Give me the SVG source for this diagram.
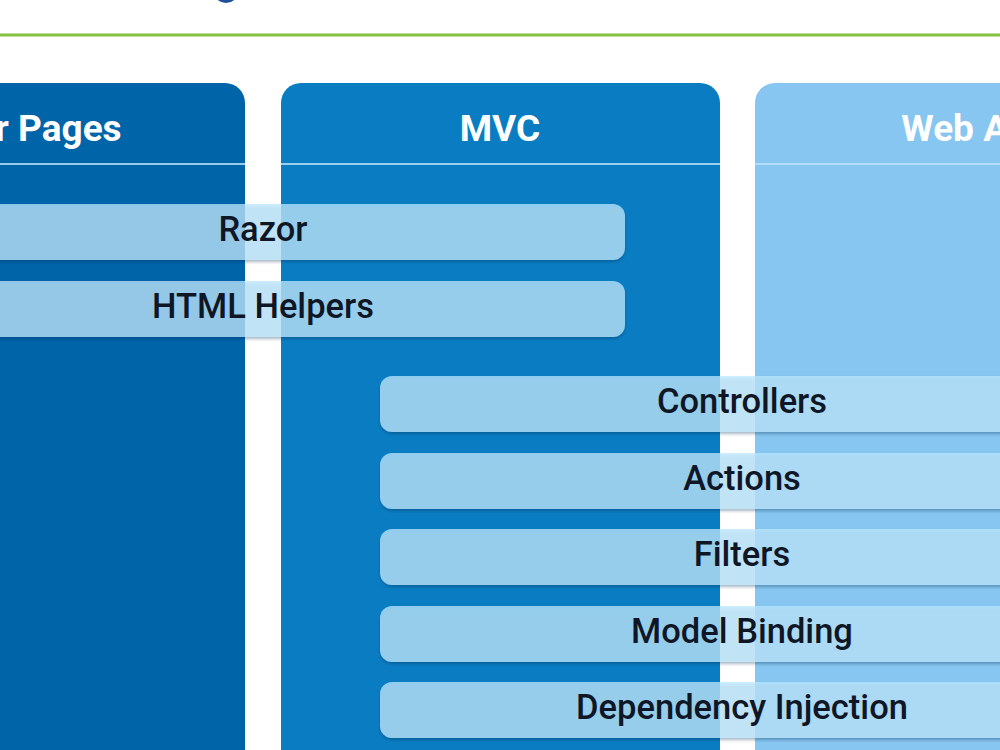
<svg xmlns="http://www.w3.org/2000/svg" width="1000" height="750" viewBox="0 0 1000 750">
<style>
.col{stroke:none}
.sep{stroke:#bfe3f7;stroke-width:2;stroke-opacity:0.8}
.hdr{font-family:Roboto,"Open Sans",sans-serif;font-weight:700;font-size:37px;fill:#ffffff;text-anchor:middle}
.bar{fill:#bde8ff;fill-opacity:0.74;filter:url(#sh)}
.lbl{font-family:Roboto,"Liberation Sans",sans-serif;font-weight:500;font-size:34.5px;fill:#0f1626;text-anchor:middle}
</style>
<defs>
<filter id="sh" x="-5%" y="-20%" width="110%" height="150%">
<feDropShadow dx="0" dy="2" stdDeviation="1.5" flood-color="#002a55" flood-opacity="0.45"/>
</filter>
</defs>
<rect width="1000" height="750" fill="#ffffff"/>
<circle cx="226" cy="-10" r="13" fill="#1f4f9a"/>
<line x1="0" y1="35" x2="1000" y2="35" stroke="#86c041" stroke-width="3"/>
<g id="col-razor-pages">
<rect class="col" x="-195" y="83" width="440" height="700" rx="20" fill="#0064a9"/>
<line class="sep" x1="-195" y1="164" x2="245" y2="164"/>
<text class="hdr" x="17" y="141">Razor Pages</text>
</g>
<g id="col-mvc">
<rect class="col" x="281" y="83" width="439" height="700" rx="20" fill="#0a7dc2"/>
<line class="sep" x1="281" y1="164" x2="720" y2="164"/>
<text class="hdr" x="500" y="141">MVC</text>
</g>
<g id="col-webapi">
<rect class="col" x="755" y="83" width="440" height="700" rx="20" fill="#86c6f0"/>
<line class="sep" x1="755" y1="164" x2="1195" y2="164" stroke="#d8efff"/>
<text class="hdr" x="972" y="141">Web API</text>
</g>
<g id="razor"><rect class="bar" x="-99" y="204" width="724" height="56" rx="12"/><text class="lbl" x="263" y="241">Razor</text></g>
<g id="html-helpers"><rect class="bar" x="-99" y="281" width="724" height="56" rx="12"/><text class="lbl" x="263" y="318">HTML Helpers</text></g>
<g id="controllers"><rect class="bar" x="380" y="376" width="724" height="56" rx="12"/><text class="lbl" x="742" y="413">Controllers</text></g>
<g id="actions"><rect class="bar" x="380" y="453" width="724" height="56" rx="12"/><text class="lbl" x="742" y="490">Actions</text></g>
<g id="filters"><rect class="bar" x="380" y="529" width="724" height="56" rx="12"/><text class="lbl" x="742" y="566">Filters</text></g>
<g id="model-binding"><rect class="bar" x="380" y="606" width="724" height="56" rx="12"/><text class="lbl" x="742" y="643">Model Binding</text></g>
<g id="dependency-injection"><rect class="bar" x="380" y="682" width="724" height="56" rx="12"/><text class="lbl" x="742" y="719">Dependency Injection</text></g>
<g id="connectors"></g>
</svg>
